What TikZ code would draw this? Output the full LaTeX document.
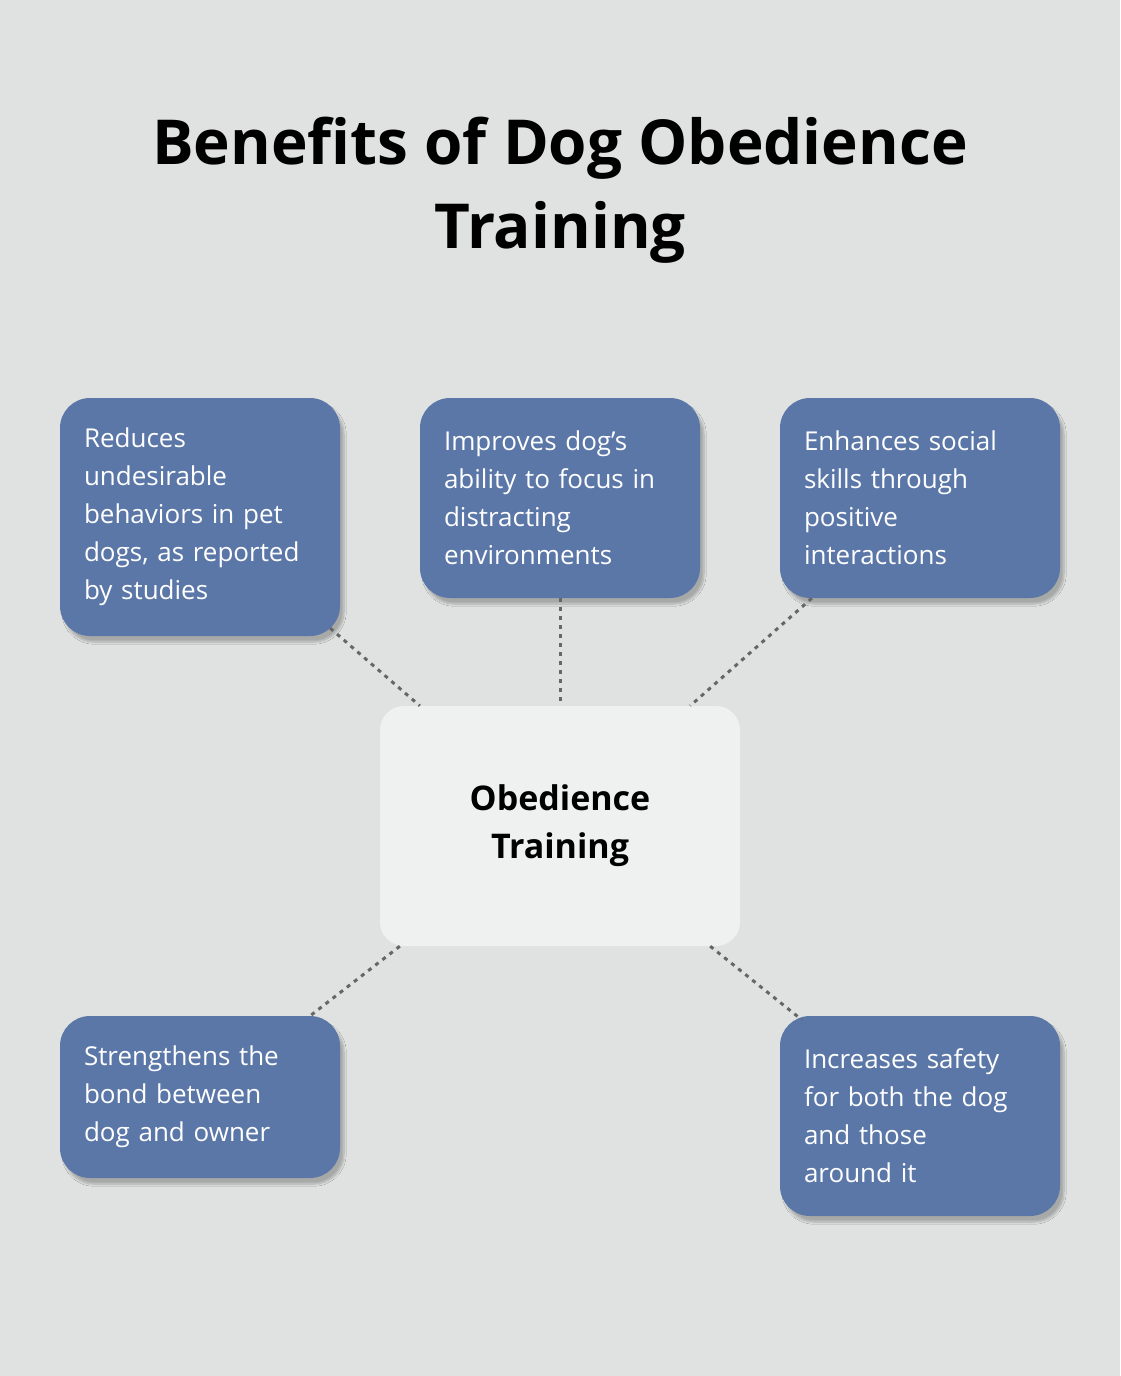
\documentclass[tikz,border=0pt]{standalone}
\usepackage{fontspec}
\setmainfont{Open Sans}
\usetikzlibrary{calc,shadows.blur}
\definecolor{bg}{HTML}{DFE2E0}
\definecolor{boxblue}{HTML}{5B77A8}
\definecolor{centerbox}{HTML}{EFF1F0}
\definecolor{dotgray}{HTML}{666666}
\tikzset{
  benefit/.style={fill=boxblue, rounded corners=30pt, text=white, align=left,
    text width=232pt, minimum width=280pt, inner xsep=24pt, inner ysep=0pt,
    font=\fontsize{26pt}{38pt}\selectfont, blur shadow={shadow blur steps=8, shadow xshift=4pt, shadow yshift=-6pt, shadow opacity=25}},
  hub/.style={fill=centerbox, rounded corners=24pt, align=center, minimum width=360pt, minimum height=240pt,
    font=\fontsize{34pt}{48pt}\selectfont\bfseries},
  link/.style={dotgray, line width=3pt, dash pattern=on 4pt off 5pt}
}
\begin{document}
\begin{tikzpicture}[x=1pt,y=-1pt]
\fill[bg] (0,0) rectangle (1120,1376);
\useasboundingbox (0,0) rectangle (1120,1376);
\node[font=\fontsize{62pt}{84pt}\selectfont\bfseries, align=center] (title) at (560,190) {Benefits of Dog Obedience\\Training};
\node[benefit, minimum height=238pt] (tl) at (200,517) {Reduces\\undesirable\\behaviors in pet\\dogs, as reported\\by studies};
\node[benefit, minimum height=200pt] (tm) at (560,498) {Improves dog's\\ability to focus in\\distracting\\environments};
\node[benefit, minimum height=200pt] (tr) at (920,498) {Enhances social\\skills through\\positive\\interactions};
\node[benefit, minimum height=162pt] (bl) at (200,1097) {Strengthens the\\bond between\\dog and owner};
\node[benefit, minimum height=200pt] (br) at (920,1116) {Increases safety\\for both the dog\\and those\\around it};
\node[hub] (c) at (560,826) {Obedience\\Training};
\draw[link] ($(tl.south east)+(-10,-8)$) -- ($(c.north west)+(40,0)$);
\draw[link] (tm.south) -- (c.north);
\draw[link] ($(tr.south west)+(32,0)$) -- ($(c.north east)+(-50,0)$);
\draw[link] ($(c.south west)+(20,0)$) -- ($(bl.north east)+(-30,0)$);
\draw[link] ($(c.south east)+(-30,0)$) -- ($(br.north west)+(22,4)$);
\end{tikzpicture}
\end{document}
